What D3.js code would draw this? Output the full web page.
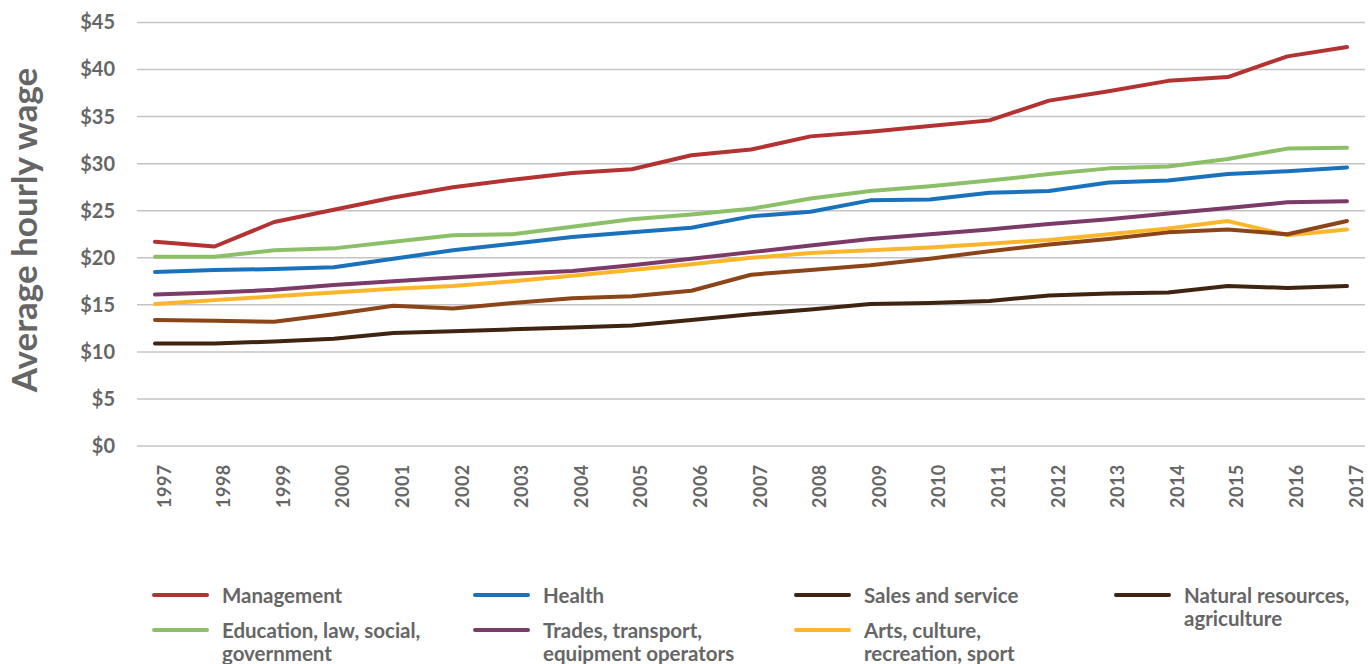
<!DOCTYPE html>
<html>
<head>
<meta charset="utf-8">
<script src="https://cdn.jsdelivr.net/npm/d3@7"></script>
<style>
  body { margin: 0; background: #fff; }
  text { font-family: Lato, "Open Sans", sans-serif; font-weight: 700; fill: #666; }
</style>
</head>
<body>
<div id="chart"></div>
<script>
// data
const years = d3.range(1997, 2018);
const yTicks = [0, 5, 10, 15, 20, 25, 30, 35, 40, 45];

const management = [21.7, 21.2, 23.8, 25.1, 26.4, 27.5, 28.3, 29.0, 29.4, 30.9, 31.5, 32.9, 33.4, 34.0, 34.6, 36.7, 37.7, 38.8, 39.2, 41.4, 42.4];
const education = [20.1, 20.1, 20.8, 21.0, 21.7, 22.4, 22.5, 23.3, 24.1, 24.6, 25.2, 26.3, 27.1, 27.6, 28.2, 28.9, 29.5, 29.7, 30.5, 31.6, 31.7];
const health = [18.5, 18.7, 18.8, 19.0, 19.9, 20.8, 21.5, 22.2, 22.7, 23.2, 24.4, 24.9, 26.1, 26.2, 26.9, 27.1, 28.0, 28.2, 28.9, 29.2, 29.6];
const trades = [16.1, 16.3, 16.6, 17.1, 17.5, 17.9, 18.3, 18.6, 19.2, 19.9, 20.6, 21.3, 22.0, 22.5, 23.0, 23.6, 24.1, 24.7, 25.3, 25.9, 26.0];
const arts = [15.1, 15.5, 15.9, 16.3, 16.7, 17.0, 17.5, 18.1, 18.7, 19.3, 20.0, 20.5, 20.8, 21.1, 21.5, 21.9, 22.5, 23.1, 23.9, 22.4, 23.0];
const natural = [13.4, 13.3, 13.2, 14.0, 14.9, 14.6, 15.2, 15.7, 15.9, 16.5, 18.2, 18.7, 19.2, 19.9, 20.7, 21.4, 22.0, 22.7, 23.0, 22.5, 23.9];
const sales = [10.9, 10.9, 11.1, 11.4, 12.0, 12.2, 12.4, 12.6, 12.8, 13.4, 14.0, 14.5, 15.1, 15.2, 15.4, 16.0, 16.2, 16.3, 17.0, 16.8, 17.0];

const seriesNames = ["Management", "Education, law, social, government", "Health",
    "Trades, transport, equipment operators", "Arts, culture, recreation, sport",
    "Natural resources, agriculture", "Sales and service"];
const seriesValues = [management, education, health, trades, arts, natural, sales];

// legend: columns left to right, rows top to bottom, text lines as shown
const legendRows = [
    [["Management"], ["Health"], ["Sales and service"], ["Natural resources,", "agriculture"]],
    [["Education, law, social,", "government"], ["Trades, transport,", "equipment operators"], ["Arts, culture,", "recreation, sport"]]
];
const legendKeys = [
    ["Management", "Health", "Sales and service", "Natural resources, agriculture"],
    ["Education, law, social, government", "Trades, transport, equipment operators", "Arts, culture, recreation, sport"]
];

const config = {
    width: 1369,
    height: 664,
    plotLeft: 137,
    plotRight: 1365,
    firstX: 155,
    lastX: 1347,
    top: 22.5,
    bottom: 446,
    lineWidth: 4,
    gridColor: "#c4c4c4",
    legendCols: [154, 475, 796, 1116],
    legendRowsY: [595, 630],
    swatchWidth: 53,
    textOffset: 68,
    lineHeight: 23,
};

const colors = {
    "Management": "#b33232",
    "Education, law, social, government": "#8cc068",
    "Health": "#1a72bd",
    "Trades, transport, equipment operators": "#7b3a68",
    "Arts, culture, recreation, sport": "#fbb62b",
    "Natural resources, agriculture": "#8c4518",
    "Sales and service": "#402412"
};
// the legend in the picture shows both brown series in the dark shade
const legendColors = Object.assign({}, colors, { "Natural resources, agriculture": "#402412" });

const svg = d3.select("#chart")
    .append("svg")
    .attr("width", config.width)
    .attr("height", config.height);

const scale_x = d3.scalePoint()
    .domain(years)
    .range([config.firstX, config.lastX]);
const scale_y = d3.scaleLinear()
    .domain([0, 45])
    .range([config.bottom, config.top]);

// grid lines
svg.append("g")
    .selectAll("line")
    .data(yTicks)
    .join("line")
    .attr("x1", config.plotLeft)
    .attr("x2", config.plotRight)
    .attr("y1", d => scale_y(d))
    .attr("y2", d => scale_y(d))
    .attr("stroke", config.gridColor)
    .attr("stroke-width", 1.5);

// y axis labels
const axis_left = d3.axisLeft(scale_y)
    .tickValues(yTicks)
    .tickFormat(d => "$" + d)
    .tickSize(0)
    .tickPadding(0);
const g_axisY = svg.append("g")
    .attr("transform", `translate(${115}, 0)`)
    .call(axis_left);
g_axisY.select(".domain").remove();
g_axisY.selectAll("text")
    .attr("font-size", 20)
    .attr("fill", "#666")
    .attr("font-family", null);

// x axis labels (rotated, bottom-aligned)
const axis_bottom = d3.axisBottom(scale_x).tickSize(0).tickPadding(0);
const g_axisX = svg.append("g")
    .attr("transform", `translate(0, ${config.bottom})`)
    .call(axis_bottom);
g_axisX.select(".domain").remove();
g_axisX.selectAll("text")
    .attr("font-size", 18)
    .attr("fill", "#666")
    .attr("font-family", null)
    .attr("letter-spacing", 0.5)
    .attr("text-anchor", "start")
    .attr("dy", null)
    .attr("y", 0)
    .attr("transform", "translate(8, 62) rotate(-90)")
    .attr("dominant-baseline", "central");

// y title
svg.append("text")
    .attr("transform", `translate(23, ${230}) rotate(-90)`)
    .attr("text-anchor", "middle")
    .attr("dominant-baseline", "central")
    .attr("font-size", 35)
    .text("Average hourly wage");

// lines
const line = d3.line()
    .x((d, i) => scale_x(years[i]))
    .y(d => scale_y(d));

svg.append("g")
    .selectAll("path")
    .data(seriesNames.map((name, i) => ({ name: name, values: seriesValues[i] })))
    .join("path")
    .attr("d", d => line(d.values))
    .attr("fill", "none")
    .attr("stroke", d => colors[d.name])
    .attr("stroke-width", config.lineWidth)
    .attr("stroke-linejoin", "round")
    .attr("stroke-linecap", "round");

// legend
const g_legend = svg.append("g");
legendRows.forEach((row, r) => {
    row.forEach((lines, c) => {
        const key = legendKeys[r][c];
        const x0 = config.legendCols[c];
        const y0 = config.legendRowsY[r];
        g_legend.append("line")
            .attr("x1", x0)
            .attr("x2", x0 + config.swatchWidth)
            .attr("y1", y0)
            .attr("y2", y0)
            .attr("stroke", legendColors[key])
            .attr("stroke-width", 4)
            .attr("stroke-linecap", "round");
        const t = g_legend.append("text")
            .attr("x", x0 + config.textOffset)
            .attr("y", y0)
            .attr("dominant-baseline", "central")
            .attr("font-size", 20.5);
        lines.forEach((s, k) => {
            t.append("tspan")
                .attr("x", x0 + config.textOffset)
                .attr("dy", k === 0 ? 0 : config.lineHeight)
                .text(s);
        });
    });
});
</script>
</body>
</html>
